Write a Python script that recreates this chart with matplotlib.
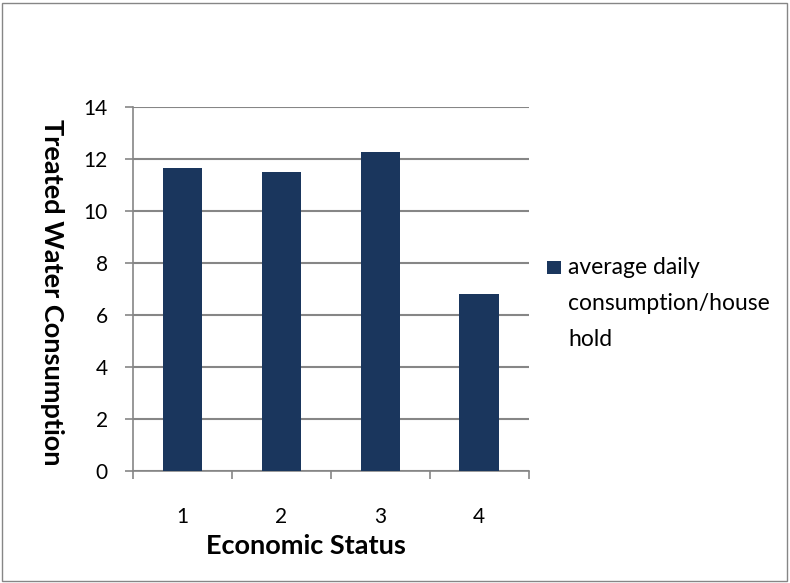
import matplotlib
matplotlib.use("Agg")
import matplotlib.pyplot as plt
from matplotlib.patches import Rectangle

categories = ["1", "2", "3", "4"]
values = [11.65, 11.5, 12.27, 6.8]
series_label = "average daily\nconsumption/house\nhold"
y_ticks = [0, 2, 4, 6, 8, 10, 12, 14]

plt.rcParams['font.family'] = ['Lato', 'DejaVu Sans']

BAR = "#1a365d"
GRID = "#868686"
W, H = 790, 583

fig = plt.figure(figsize=(W / 100, H / 100), dpi=100)
ax = fig.add_axes([133 / W, 1 - 471 / H, (528.7 - 133) / W, (471 - 107) / H])

x = list(range(len(categories)))
ax.bar(x, values, width=0.4, color=BAR, zorder=3)

ax.set_xlim(-0.5, len(categories) - 0.5)
ax.set_ylim(0, 14)
ax.set_yticks(y_ticks)
ax.set_yticklabels([str(t) for t in y_ticks], fontsize=15)
ax.set_xticks(x)
ax.set_xticklabels(categories, fontsize=15)
ax.set_xticks([i - 0.5 for i in range(len(categories) + 1)], minor=True)
ax.tick_params(axis='x', which='major', length=0, pad=26)
ax.tick_params(axis='x', which='minor', length=6, width=1.2, color=GRID, direction='out')
ax.tick_params(axis='y', length=6, width=1.2, color=GRID, direction='out', pad=12)

ax.yaxis.grid(True, color=GRID, linewidth=1.5, zorder=0)
ax.set_axisbelow(True)
for s in ['top', 'right']:
    ax.spines[s].set_visible(False)
for s in ['left', 'bottom']:
    ax.spines[s].set_color(GRID)
    ax.spines[s].set_linewidth(1.2)

ax.set_xlabel("Economic Status", fontsize=19.5, fontweight='bold')
ax.xaxis.set_label_coords((306 - 133) / 395.7, (471 - 546) / 364)
ax.xaxis.label.set_va('center')
ax.set_ylabel("Treated Water Consumption", fontsize=19.5, fontweight='bold', rotation=270)
ax.yaxis.set_label_coords((51.7 - 133) / 395.7, (471 - 292) / 364)
ax.yaxis.label.set_va('center')
ax.yaxis.label.set_ha('center')

# legend (handle aligned with first line, as in the reference)
fig.patches.append(Rectangle((547 / W, 1 - 274 / H), 14 / W, 13 / H,
                             transform=fig.transFigure, facecolor=BAR, edgecolor='none'))
fig.text(568 / W, 1 - 257.5 / H, series_label, fontsize=16.5, va='top', ha='left',
         linespacing=1.87)

fig.patches.append(Rectangle((2 / W, 2 / H), 785 / W, 578 / H,
                             transform=fig.transFigure, fill=False,
                             edgecolor=GRID, linewidth=1.0))

fig.savefig("out.png", dpi=100)
